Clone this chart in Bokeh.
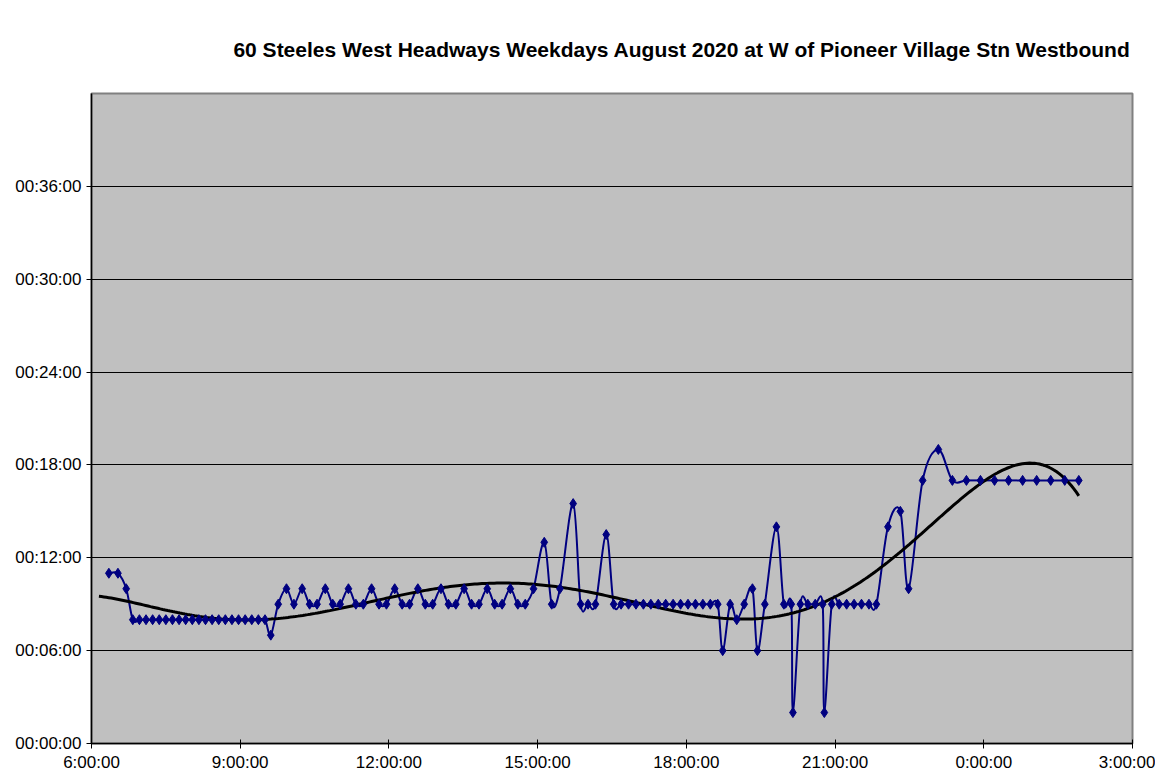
import numpy as np
from bokeh.plotting import figure
from bokeh.embed import file_html
from bokeh.resources import INLINE
from bokeh.models import FixedTicker, ColumnDataSource

title_text = "60 Steeles West Headways Weekdays August 2020 at W of Pioneer Village Stn Westbound"

trip_times = [
    "6:21", "6:32", "6:42", "6:50", "6:58", "7:06", "7:14", "7:22", "7:30", "7:38",
    "7:46", "7:54", "8:02", "8:10", "8:18", "8:26", "8:34", "8:42", "8:50", "8:58",
    "9:06", "9:14", "9:22", "9:30", "9:37", "9:46", "9:56", "10:05", "10:15", "10:24",
    "10:33", "10:43", "10:52", "11:01", "11:11", "11:20", "11:29", "11:39", "11:48", "11:57",
    "12:07", "12:16", "12:25", "12:35", "12:44", "12:53", "13:03", "13:12", "13:21", "13:31",
    "13:40", "13:49", "13:59", "14:08", "14:17", "14:27", "14:36", "14:45", "14:55", "15:08",
    "15:17", "15:27", "15:43", "15:52", "16:01", "16:10", "16:23", "16:32", "16:41", "16:50",
    "16:59", "17:08", "17:17", "17:26", "17:35", "17:44", "17:53", "18:02", "18:11", "18:20",
    "18:29", "18:38", "18:44", "18:53", "19:01", "19:10", "19:20", "19:26", "19:35", "19:49",
    "19:58", "20:07", "20:09", "20:18", "20:27", "20:36", "20:45", "20:47", "20:56", "21:05",
    "21:14", "21:23", "21:32", "21:41", "21:50", "22:04", "22:19", "22:29", "22:46", "23:05",
    "23:22", "23:39", "23:56", "0:13", "0:30", "0:47", "1:04", "1:21", "1:38", "1:55",
]

headway_min = [
    11, 11, 10, 8, 8, 8, 8, 8, 8, 8,
    8, 8, 8, 8, 8, 8, 8, 8, 8, 8,
    8, 8, 8, 8, 7, 9, 10, 9, 10, 9,
    9, 10, 9, 9, 10, 9, 9, 10, 9, 9,
    10, 9, 9, 10, 9, 9, 10, 9, 9, 10,
    9, 9, 10, 9, 9, 10, 9, 9, 10, 13,
    9, 10, 15.5, 9, 9, 9, 13.5, 9, 9, 9,
    9, 9, 9, 9, 9, 9, 9, 9, 9, 9,
    9, 9, 6, 9, 8, 9, 10, 6, 9, 14,
    9, 9, 2, 9, 9, 9, 9, 2, 9, 9,
    9, 9, 9, 9, 9, 14, 15, 10, 17, 19,
    17, 17, 17, 17, 17, 17, 17, 17, 17, 17,
]

x_tick_hours = [6, 9, 12, 15, 18, 21, 24, 27]
x_tick_labels = ["6:00:00", "9:00:00", "12:00:00", "15:00:00", "18:00:00", "21:00:00", "0:00:00", "3:00:00"]
y_tick_minutes = [0, 6, 12, 18, 24, 30, 36]
y_tick_labels = ["00:00:00", "00:06:00", "00:12:00", "00:18:00", "00:24:00", "00:30:00", "00:36:00"]


def to_hours(s):
    h, m = s.split(":")
    h = int(h)
    if h < 6:
        h += 24
    return h + int(m) / 60.0


x = np.array([to_hours(t) for t in trip_times])
y = np.array(headway_min, dtype=float)

p = figure(
    width=1155, height=774,
    x_range=(6, 27), y_range=(0, 42),
    output_backend="svg", toolbar_location=None,
    min_border_left=91, min_border_right=23, min_border_top=93, min_border_bottom=31,
    background_fill_color="#C0C0C0", border_fill_color="white",
    outline_line_color="#808080", outline_line_width=2,
)

p.title.text = title_text
p.title.align = "right"
p.title.text_font = "Liberation Sans"
p.title.text_font_style = "bold"
p.title.text_font_size = "21px"
p.title.text_color = "black"
p.title.offset = 2
p.title.standoff = 66

# grid
p.xgrid.visible = False
p.ygrid.ticker = FixedTicker(ticks=y_tick_minutes)
p.ygrid.grid_line_color = "black"
p.ygrid.grid_line_width = 1

# axes
for ax in (p.xaxis[0], p.yaxis[0]):
    ax.axis_line_color = "black"
    ax.axis_line_width = 1.5
    ax.major_tick_line_color = "black"
    ax.major_tick_in = 4
    ax.major_tick_out = 5
    ax.minor_tick_line_color = None
    ax.major_label_text_font = "Liberation Sans"
    ax.major_label_text_font_size = "17px"
    ax.major_label_text_color = "black"

p.xaxis.ticker = FixedTicker(ticks=x_tick_hours)
p.xaxis.major_label_overrides = {h: l for h, l in zip(x_tick_hours, x_tick_labels)}
p.xaxis.major_label_standoff = 4
p.yaxis.ticker = FixedTicker(ticks=y_tick_minutes)
p.yaxis.major_label_overrides = {m: l for m, l in zip(y_tick_minutes, y_tick_labels)}
p.yaxis.major_label_standoff = 5

# smoothed series line (Catmull-Rom style Bezier segments through the data points)
xp = np.concatenate([[x[0]], x, [x[-1]]])
yp = np.concatenate([[y[0]], y, [y[-1]]])
n = len(x)
x0 = x[:-1]; y0 = y[:-1]
x1 = x[1:]; y1 = y[1:]
cx0 = x0 + (xp[2:n + 1] - xp[0:n - 1]) / 6.0
cy0 = y0 + (yp[2:n + 1] - yp[0:n - 1]) / 6.0
cx1 = x1 - (xp[3:n + 2] - xp[1:n]) / 6.0
cy1 = y1 - (yp[3:n + 2] - yp[1:n]) / 6.0
seg = ColumnDataSource(dict(x0=x0, y0=y0, x1=x1, y1=y1, cx0=cx0, cy0=cy0, cx1=cx1, cy1=cy1))
p.bezier(x0="x0", y0="y0", x1="x1", y1="y1", cx0="cx0", cy0="cy0", cx1="cx1", cy1="cy1",
         source=seg, line_color="#000080", line_width=2)

# polynomial trendline fitted to the data
poly = np.polynomial.Polynomial.fit(x, y, 6)
xt = np.linspace(x[0] - 0.2, x[-1], 400)
p.line(xt, poly(xt), line_color="black", line_width=3)

p.scatter(x, y, marker="diamond", size=10, fill_color="#000080", line_color="#000080")

open("out.html", "w").write(file_html(p, INLINE))
